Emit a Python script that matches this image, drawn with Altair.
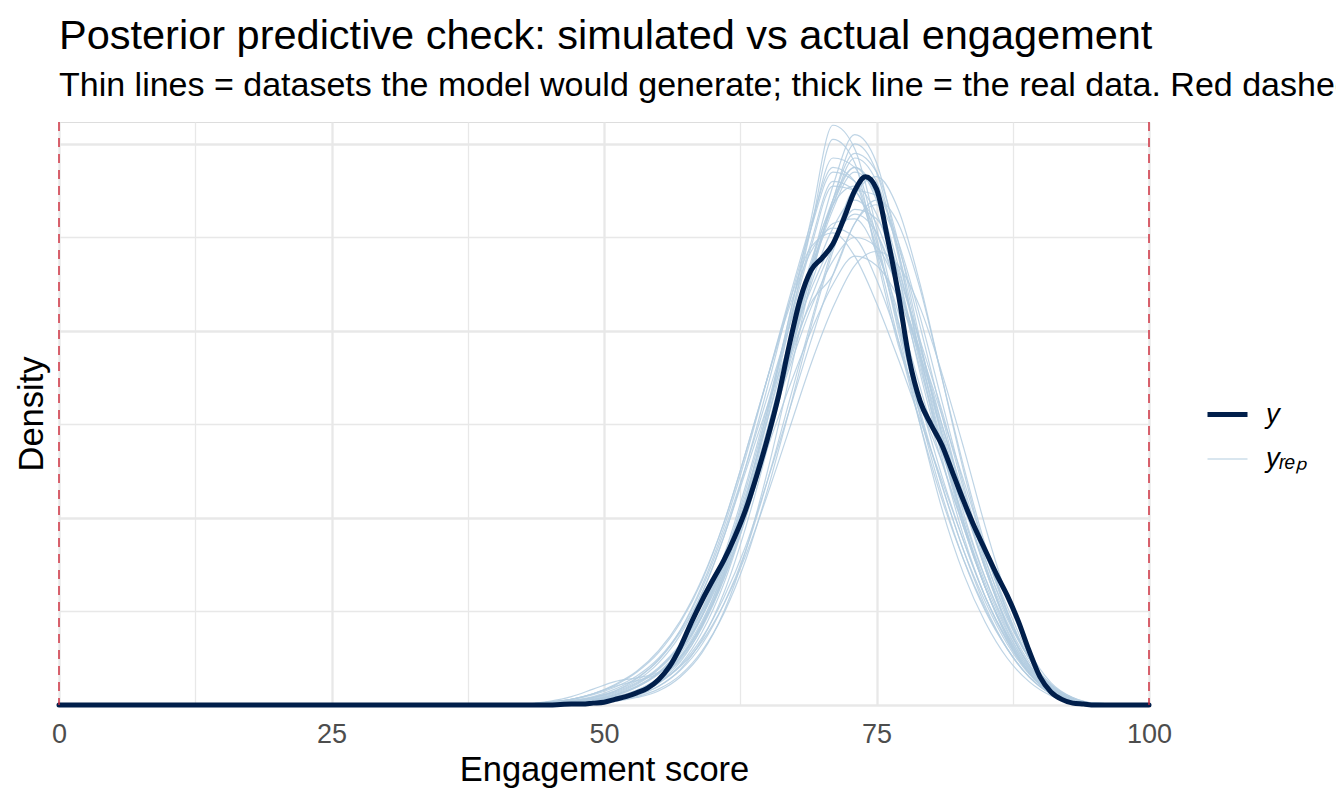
import altair as alt
import pandas as pd

TITLE = "Posterior predictive check: simulated vs actual engagement"
SUBTITLE = ("Thin lines = datasets the model would generate; thick line = the real data. "
            "Red dashed lines = the 0\u2013100 limits of the scale.")
X_TITLE = "Engagement score"
Y_TITLE = "Density"

series_names = ["y", "y_rep"]
series_labels = {"y": "y", "y_rep": "y\u1d63\u2091\u209a"}
bounds = [0, 100]
x_ticks = [0, 12.5, 25, 37.5, 50, 62.5, 75, 87.5, 100]
y_grid = [0, 10, 20, 30, 40, 50, 60]

y_x = [0, 40, 45, 46, 47, 48, 49, 50, 51, 52, 53, 54, 55, 56, 57, 58, 59, 60,
       61, 62, 63, 64, 65, 66, 67, 68, 69, 70, 71, 72, 73, 74, 75, 76, 77, 78,
       79, 80, 81, 82, 83, 84, 85, 86, 87, 88, 89, 90, 91, 92, 93, 94, 95, 100]
y_density = [0, 0, 0, 0.05, 0.1, 0.1, 0.2, 0.3, 0.6, 0.9, 1.3, 1.8, 2.7, 4.1,
             6.2, 8.8, 11.2, 13.4, 15.5, 18.0, 20.9, 24.5, 28.5, 33.0, 38.5,
             43.4, 46.5, 47.8, 49.3, 52.0, 55.0, 56.5, 55.2, 50.0, 44.0, 37.0,
             32.5, 30.0, 27.8, 24.8, 21.8, 19.0, 16.5, 14.0, 11.7, 9.0, 5.8,
             3.0, 1.4, 0.6, 0.2, 0.1, 0, 0]

# simulated datasets (x1000)
rep_x = [0, 41, 45, 47, 49, 51, 53, 55, 57, 59, 61, 63, 65, 67, 69, 71, 73,
         75, 77, 79, 81, 83, 85, 87, 89, 91, 93, 95, 100]
rep_01 = [0, 0, 0.1, 0.2, 0.4, 0.8, 1.5, 2.7, 5.0, 8.8, 14.5, 22, 31, 41.5, 52, 62, 59.5, 51, 41, 31, 22.5, 15.5, 10, 6, 3, 1.2, 0.4, 0.1, 0]
rep_02 = [0, 0, 0.1, 0.2, 0.3, 0.6, 1.2, 2.3, 4.3, 7.8, 13, 20, 28, 37, 46, 54, 60, 57, 48, 37.5, 27.5, 19, 12.5, 7.5, 3.8, 1.5, 0.5, 0.1, 0]
rep_03 = [0, 0, 0.2, 0.3, 0.6, 1.1, 2.0, 3.4, 5.8, 9.5, 14.8, 21.5, 29.5, 38, 46.5, 53.5, 58.5, 56, 48.5, 38.5, 29, 20.5, 13.5, 8, 4, 1.6, 0.5, 0.1, 0]
rep_04 = [0, 0, 0.2, 0.4, 0.8, 1.4, 2.4, 4.0, 6.5, 10, 15, 21, 27.5, 34, 40, 45, 48, 47, 43.5, 37.5, 30, 22.5, 15.5, 9.5, 5, 2.2, 0.7, 0.2, 0]
rep_05 = [0, 0, 0.2, 0.4, 0.8, 1.5, 2.6, 4.5, 7.5, 12, 18, 25.5, 34, 43, 51, 57, 56, 49.5, 40.5, 31.5, 23.5, 16.5, 11, 6.5, 3.3, 1.3, 0.4, 0.1, 0]
rep_06 = [0, 0, 0.1, 0.1, 0.3, 0.6, 1.1, 2.0, 3.7, 6.5, 10.8, 16.5, 24, 32.5, 41, 49, 55, 54.5, 49.5, 41.5, 32.5, 23.5, 15.5, 9.5, 5, 2, 0.6, 0.1, 0]
rep_07 = [0, 0, 0.3, 0.6, 1.2, 2.0, 2.6, 3.4, 5.5, 9.5, 15.5, 23, 31.5, 40.5, 49, 55.5, 55, 49, 41, 32.5, 24.5, 17.5, 11.5, 7, 3.5, 1.4, 0.4, 0.1, 0]
rep_08 = [0, 0, 0.1, 0.3, 0.5, 1.0, 1.9, 3.3, 5.8, 9.7, 15, 21.5, 29, 36.5, 43.5, 49, 53, 52, 46.5, 38.5, 30, 22, 14.5, 8.5, 4.3, 1.8, 0.6, 0.1, 0]
rep_09 = [0, 0, 0.1, 0.1, 0.3, 0.6, 1.2, 2.4, 4.6, 8.4, 14, 22, 31.5, 41.5, 51, 58.5, 57.5, 50, 40, 30, 21, 14, 8.8, 5, 2.5, 1, 0.3, 0.1, 0]
rep_10 = [0, 0, 0.1, 0.2, 0.4, 0.7, 1.3, 2.4, 4.2, 7.2, 11.5, 17, 24, 31.5, 39, 46, 51.5, 54, 51.5, 44.5, 35, 25.5, 17, 10, 5, 2, 0.6, 0.1, 0]
rep_11 = [0, 0, 0.1, 0.2, 0.5, 0.9, 1.6, 2.9, 5.2, 9, 14.2, 21, 29.5, 38.5, 47, 54, 57.5, 54, 46, 36.5, 27.5, 19.5, 13, 7.8, 4, 1.6, 0.5, 0.1, 0]
rep_12 = [0, 0, 0.3, 0.6, 1.1, 1.9, 3.1, 5.0, 8.0, 12.5, 18.5, 25.5, 33, 40.5, 47, 51.5, 52, 48.5, 42, 34, 26, 19, 12.5, 7.5, 3.8, 1.5, 0.5, 0.1, 0]
rep_13 = [0, 0, 0.1, 0.1, 0.2, 0.5, 1.0, 2.0, 3.8, 7, 12, 19, 27.5, 37, 47, 55.5, 61, 58, 48.5, 37, 26.5, 18, 11.5, 6.8, 3.4, 1.3, 0.4, 0.1, 0]
rep_14 = [0, 0, 0.1, 0.3, 0.6, 1.1, 2.0, 3.5, 6, 10, 15.5, 22.5, 30.5, 39, 47.5, 53.5, 55.5, 52.5, 46, 39, 31.5, 23, 15, 8.5, 4.2, 1.7, 0.5, 0.1, 0]
rep_15 = [0, 0, 0.2, 0.4, 0.7, 1.3, 2.3, 3.9, 6.4, 10.2, 15.5, 22, 29, 36, 42.5, 47.5, 50, 49, 44.5, 37.5, 29.5, 21.5, 14.5, 8.8, 4.6, 2, 0.7, 0.2, 0]
rep_16 = [0, 0, 0.1, 0.1, 0.2, 0.5, 0.9, 1.7, 3.2, 5.8, 9.8, 15.5, 23, 31.5, 40.5, 48.5, 54.5, 56.5, 53, 45, 35, 25, 16.5, 9.8, 5, 2, 0.6, 0.1, 0]
rep_17 = [0, 0, 0.2, 0.5, 0.9, 1.7, 2.9, 4.8, 8, 12.8, 19, 26.5, 35, 43.5, 51.5, 57.5, 56, 48.5, 39, 30, 22, 15.5, 10.2, 6, 3, 1.2, 0.4, 0.1, 0]
rep_18 = [0, 0, 0.1, 0.2, 0.4, 0.8, 1.5, 2.8, 5, 8.6, 13.8, 20.5, 28.5, 37, 45, 51, 54, 51.5, 45, 37, 29, 21.5, 14.8, 9.2, 5, 2.2, 0.8, 0.2, 0]
rep_19 = [0, 0, 0.3, 0.6, 1.2, 2.2, 3.6, 5.8, 9, 13.5, 19.5, 27, 35, 43, 49, 50.5, 48, 43, 37, 30.5, 24, 17.5, 11.5, 6.8, 3.4, 1.4, 0.5, 0.1, 0]
rep_20 = [0, 0, 0.1, 0.2, 0.5, 1.0, 1.9, 3.4, 5.8, 9.5, 14.5, 21, 29, 37, 43, 46, 51.5, 53.5, 49, 40.5, 31, 22, 14.5, 8.5, 4.3, 1.8, 0.6, 0.1, 0]
rep_21 = [0, 0, 0.1, 0.2, 0.4, 0.8, 1.4, 2.4, 4.1, 6.8, 10.8, 16, 22.5, 29.5, 36.5, 42.5, 47, 48.5, 47, 42.5, 35.5, 27.5, 19, 11.5, 5.8, 2.4, 0.8, 0.2, 0]
rep_22 = [0, 0, 0.4, 0.9, 1.7, 2.5, 2.9, 3.5, 5.2, 8.5, 13.5, 20, 28, 37, 46, 53, 57, 54.5, 47, 37.5, 28, 19.5, 12.5, 7.3, 3.6, 1.4, 0.4, 0.1, 0]
rep_23 = [0, 0, 0.1, 0.2, 0.4, 0.8, 1.5, 2.8, 5.0, 8.7, 14, 21.5, 30.5, 40.5, 51, 60.5, 58, 48, 38.5, 32, 26, 19, 12.5, 7.2, 3.5, 1.4, 0.4, 0.1, 0]
rep_24 = [0, 0, 0.2, 0.4, 0.8, 1.5, 2.8, 4.8, 7.8, 12, 18, 25, 32, 38.5, 44.5, 49.5, 52.5, 50.5, 44.5, 36, 27.5, 20, 13.5, 8.3, 4.3, 1.8, 0.6, 0.1, 0]
rep_25 = [0, 0, 0.1, 0.1, 0.2, 0.4, 0.8, 1.5, 3, 5.6, 10, 16.5, 25, 35, 45.5, 54, 59, 57, 49.5, 39, 28.5, 19.5, 12.5, 7.2, 3.6, 1.4, 0.4, 0.1, 0]
rep_26 = [0, 0, 0.1, 0.3, 0.6, 1.2, 2.2, 3.8, 6.3, 10.3, 16, 23.5, 32, 41, 49.5, 56, 55, 50.5, 44.5, 38, 31, 24, 16.5, 10, 5, 2, 0.6, 0.1, 0]
rep_27 = [0, 0, 0.3, 0.6, 1.2, 2.1, 3.5, 5.6, 8.8, 13.3, 19.5, 27, 35, 42.5, 48.5, 51, 50, 45.5, 39, 31, 23.5, 16.5, 10.5, 6, 3, 1.2, 0.4, 0.1, 0]
rep_28 = [0, 0, 0.1, 0.2, 0.4, 0.8, 1.5, 2.7, 4.8, 8.3, 13.5, 20.5, 29, 38, 46.5, 53.5, 57.5, 54.5, 46, 35.5, 27, 21, 16, 10.5, 5.3, 2.1, 0.6, 0.1, 0]
rep_lines = [rep_01, rep_02, rep_03, rep_04, rep_05, rep_06, rep_07, rep_08, rep_09,
             rep_10, rep_11, rep_12, rep_13, rep_14, rep_15, rep_16, rep_17, rep_18,
             rep_19, rep_20, rep_21, rep_22, rep_23, rep_24, rep_25, rep_26, rep_27,
             rep_28]

# ---- tables
rep_rows = []
for i, vals in enumerate(rep_lines):
    for xv, dv in zip(rep_x, vals):
        rep_rows.append({"x": xv, "density": dv, "series": "y_rep", "draw": i})
rep_df = pd.DataFrame(rep_rows)
y_df = pd.DataFrame({"x": y_x, "density": y_density, "series": "y", "draw": -1})
bounds_df = pd.DataFrame({"x": bounds})

FONT = "Liberation Sans"
NAVY = "#011F4B"
LIGHT = "#B3CDE0"
RED = "#CE2536"
GRID = "#E8E8E8"

x_scale = alt.Scale(domain=[0, 100], nice=False, zero=False)
y_scale = alt.Scale(domain=[0, 62.35], nice=False)

x_axis = alt.Axis(
    values=x_ticks,
    labelExpr="datum.value % 25 === 0 ? datum.label : ''",
    title=X_TITLE,
    grid=True,
    gridColor=GRID,
    gridWidth=alt.condition("datum.value % 25 === 0", alt.value(2.3), alt.value(1.3)),
    domain=False,
    ticks=False,
    tickSize=0,
    labelFlush=False,
    labelFont=FONT,
    labelFontSize=27,
    labelColor="#4D4D4D",
    labelPadding=16,
    titleFont=FONT,
    titleFontSize=34.5,
    titleFontWeight="normal",
    titleColor="black",
    titlePadding=6,
)
y_axis = alt.Axis(
    values=y_grid,
    labels=False,
    title=Y_TITLE,
    grid=True,
    gridColor=GRID,
    gridWidth=alt.condition("datum.value % 20 === 0", alt.value(2.3), alt.value(1.3)),
    domain=False,
    ticks=False,
    tickSize=0,
    titleFont=FONT,
    titleFontSize=34.5,
    titleFontWeight="normal",
    titleColor="black",
    titlePadding=10,
)

legend = alt.Legend(
    title=None,
    orient="none",
    legendX=1146,
    legendY=270,
    symbolType="stroke",
    symbolSize=1600,
    symbolOpacity=1,
    labelFont=FONT,
    labelFontSize=27.5,
    labelFontStyle="italic",
    labelColor="black",
    labelOffset=16,
    rowPadding=10,
    labelExpr="datum.label == 'y_rep' ? '" + series_labels["y_rep"] + "' : 'y'",
)
color = alt.Color("series:N", scale=alt.Scale(domain=series_names, range=[NAVY, LIGHT]), legend=legend)
width_enc = alt.StrokeWidth("series:N", scale=alt.Scale(domain=series_names, range=[5, 1.2]), legend=legend)

rep_layer = alt.Chart(rep_df).mark_line(interpolate="monotone", opacity=0.85).encode(
    x=alt.X("x:Q", scale=x_scale, axis=x_axis),
    y=alt.Y("density:Q", scale=y_scale, axis=y_axis),
    color=color,
    strokeWidth=width_enc,
    detail="draw:N",
)
y_layer = alt.Chart(y_df).mark_line(interpolate="monotone", strokeCap="round", strokeJoin="round").encode(
    x=alt.X("x:Q", scale=x_scale, axis=x_axis),
    y=alt.Y("density:Q", scale=y_scale, axis=y_axis),
    color=color,
    strokeWidth=width_enc,
)
rules = alt.Chart(bounds_df).mark_rule(color=RED, strokeDash=[9, 7], strokeWidth=1.4).encode(
    x=alt.X("x:Q", scale=x_scale, axis=x_axis),
)

chart = alt.layer(rep_layer, y_layer, rules).properties(
    width=1090,
    height=583,
    title=alt.TitleParams(
        text=TITLE,
        subtitle=SUBTITLE,
        anchor="start",
        frame="group",
        font=FONT,
        fontSize=41.5,
        fontWeight="normal",
        color="black",
        subtitleFont=FONT,
        subtitleFontSize=34,
        subtitleColor="black",
        subtitlePadding=12,
        offset=18,
    ),
    autosize=alt.AutoSizeParams(type="none"),
    padding={"left": 51, "top": 114, "right": 187, "bottom": 90},
).configure_view(strokeWidth=0).configure(background="white")

chart.save("out.html", embed_options={"renderer": "svg", "actions": False})
